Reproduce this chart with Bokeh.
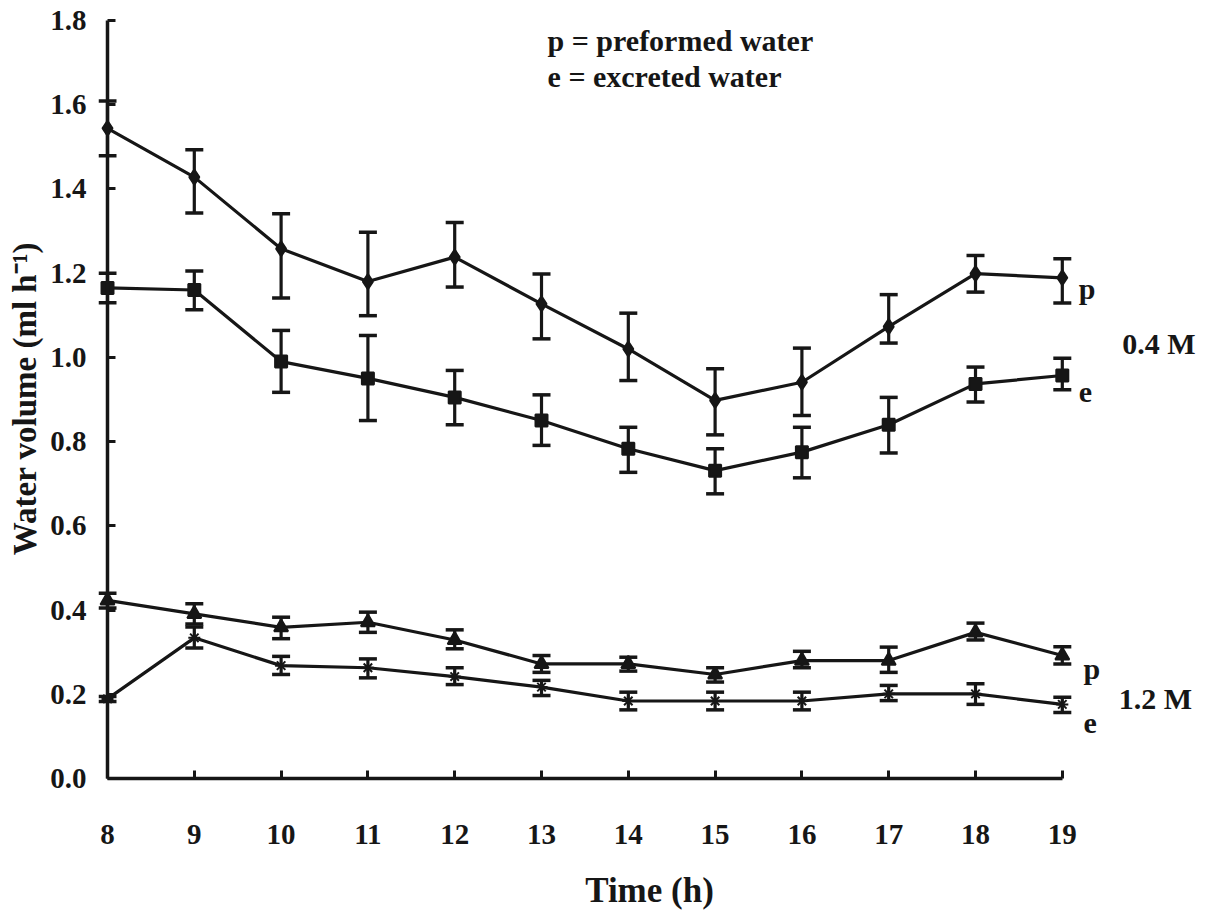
from bokeh.plotting import figure
from bokeh.models import (ColumnDataSource, Whisker, TeeHead, Label, Range1d,
                          FixedTicker, LinearAxis, NumeralTickFormatter)
from bokeh.embed import file_html
from bokeh.resources import INLINE

# ---- data ----
hours = [8, 9, 10, 11, 12, 13, 14, 15, 16, 17, 18, 19]

# 0.4 M, preformed water (p)
p04 = [1.544, 1.428, 1.258, 1.180, 1.238, 1.127, 1.020, 0.898, 0.941, 1.073, 1.199, 1.189]
p04_hi = [1.609, 1.493, 1.341, 1.297, 1.320, 1.198, 1.105, 0.973, 1.022, 1.149, 1.242, 1.234]
p04_lo = [1.479, 1.343, 1.141, 1.099, 1.167, 1.044, 0.945, 0.816, 0.862, 1.034, 1.155, 1.129]

# 0.4 M, excreted water (e)
e04 = [1.165, 1.160, 0.990, 0.950, 0.905, 0.850, 0.783, 0.731, 0.775, 0.840, 0.937, 0.957]
e04_hi = [1.200, 1.205, 1.064, 1.052, 0.969, 0.911, 0.834, 0.783, 0.834, 0.905, 0.977, 0.998]
e04_lo = [1.130, 1.113, 0.917, 0.850, 0.840, 0.791, 0.727, 0.676, 0.714, 0.773, 0.894, 0.923]

# 1.2 M, preformed water (p)
p12 = [0.423, 0.391, 0.359, 0.371, 0.329, 0.272, 0.272, 0.247, 0.280, 0.280, 0.347, 0.292]
p12_hi = [0.440, 0.415, 0.383, 0.395, 0.353, 0.292, 0.288, 0.263, 0.302, 0.312, 0.369, 0.313]
p12_lo = [0.405, 0.367, 0.332, 0.347, 0.308, 0.252, 0.255, 0.229, 0.263, 0.252, 0.329, 0.272]

# 1.2 M, excreted water (e)
e12 = [0.189, 0.334, 0.268, 0.263, 0.242, 0.217, 0.184, 0.184, 0.184, 0.201, 0.201, 0.176]
e12_hi = [0.195, 0.360, 0.290, 0.284, 0.263, 0.233, 0.205, 0.205, 0.205, 0.221, 0.225, 0.193]
e12_lo = [0.183, 0.310, 0.247, 0.239, 0.223, 0.197, 0.163, 0.163, 0.163, 0.185, 0.176, 0.157]

y_ticks = [0.0, 0.2, 0.4, 0.6, 0.8, 1.0, 1.2, 1.4, 1.6, 1.8]

FONT = "Liberation Serif"
INK = "#161616"

p = figure(frame_width=1102, frame_height=776,
           min_border_left=98, min_border_right=6, min_border_top=10, min_border_bottom=100,
           x_range=Range1d(7.8963, 20.5921), y_range=Range1d(-0.019, 1.8237),
           output_backend="svg", toolbar_location=None,
           x_axis_type=None, y_axis_type=None)
p.background_fill_color = "white"
p.border_fill_color = "white"
p.outline_line_color = None
p.xgrid.visible = False
p.ygrid.visible = False

# axis lines + inward ticks, drawn at x = 8 and y = 0
x_line = LinearAxis(ticker=FixedTicker(ticks=hours), fixed_location=0, bounds=(8, 19))
y_line = LinearAxis(ticker=FixedTicker(ticks=y_ticks), fixed_location=8, bounds=(0, 1.8))
for ax in (x_line, y_line):
    ax.axis_line_width = 3.5
    ax.axis_line_color = INK
    ax.major_tick_line_width = 3
    ax.major_tick_line_color = INK
    ax.major_tick_in = 8
    ax.major_tick_out = 0
    ax.minor_tick_line_color = None
    ax.major_label_text_color = None
    ax.major_label_text_font_size = "1px"
p.add_layout(x_line, "below")
p.add_layout(y_line, "left")

# tick labels + titles, in the side panels
x_lab = LinearAxis(ticker=FixedTicker(ticks=hours), axis_label="Time (h)")
y_lab = LinearAxis(ticker=FixedTicker(ticks=y_ticks), formatter=NumeralTickFormatter(format="0.0"),
                   axis_label="Water volume (ml h\u207b\u00b9)")
for ax in (x_lab, y_lab):
    ax.axis_line_color = None
    ax.major_tick_line_color = None
    ax.minor_tick_line_color = None
    ax.major_tick_in = 0
    ax.major_tick_out = 0
    ax.major_label_text_font = FONT
    ax.major_label_text_font_style = "bold"
    ax.major_label_text_font_size = "29px"
    ax.major_label_text_color = INK
    ax.axis_label_text_font = FONT
    ax.axis_label_text_font_style = "bold"
    ax.axis_label_text_color = INK
x_lab.axis_label_text_font_size = "35px"
y_lab.axis_label_text_font_size = "33px"
x_lab.major_label_standoff = 38
x_lab.axis_label_standoff = 24
y_lab.major_label_standoff = 12
y_lab.axis_label_standoff = 4
p.add_layout(x_lab, "below")
p.add_layout(y_lab, "left")

series = [
    (p04, p04_lo, p04_hi, "diamond", 15),
    (e04, e04_lo, e04_hi, "square", 12),
    (p12, p12_lo, p12_hi, "triangle", 14),
    (e12, e12_lo, e12_hi, "asterisk", 12),
]

for vals, lo, hi, marker, size in series:
    src = ColumnDataSource(dict(x=hours, y=vals, lo=lo, hi=hi))
    p.line("x", "y", source=src, line_width=3.2, line_color=INK)
    w = Whisker(base="x", lower="lo", upper="hi", source=src,
                line_width=3.2, line_color=INK,
                upper_head=TeeHead(size=18, line_width=3.5, line_color=INK),
                lower_head=TeeHead(size=18, line_width=3.5, line_color=INK))
    p.add_layout(w)
    p.scatter("x", "y", source=src, marker=marker, size=size,
              fill_color=INK, line_color=INK, line_width=2)

def add_label(x, y, text):
    p.add_layout(Label(x=x, y=y, text=text, text_font=FONT, text_font_style="bold",
                       text_font_size="30px", text_color=INK,
                       text_baseline="alphabetic", text_align="left"))

add_label(13.07, 1.7525, "p = preformed water")
add_label(13.07, 1.667, "e = excreted water")
add_label(19.19, 1.164, "p")
add_label(19.19, 0.917, "e")
add_label(19.69, 1.033, "0.4 M")
add_label(19.245, 0.261, "p")
add_label(19.245, 0.131, "e")
add_label(19.65, 0.190, "1.2 M")

open("out.html", "w").write(file_html(p, INLINE))
